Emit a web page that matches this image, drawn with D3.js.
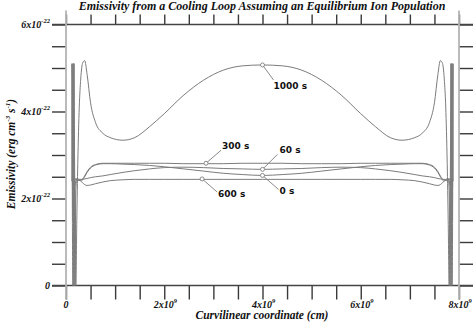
<!DOCTYPE html>
<html>
<head>
<meta charset="utf-8">
<script src="https://cdn.jsdelivr.net/npm/d3@7"></script>
<style>
  html, body { margin: 0; padding: 0; background: #fff; }
  svg { display: block; }
</style>
</head>
<body>
<svg id="chart" width="474" height="322"></svg>
<script>
// Position along the loop, in units of 1e9 cm
const coord = [
  0.12, 0.14, 0.16, 0.18, 0.20, 0.22, 0.24, 0.27, 0.30, 0.34, 0.38, 0.43,
  0.50, 0.60, 0.75, 0.90, 1.16, 1.40, 1.70, 2.00, 2.40, 2.80, 3.20, 3.60,
  4.00,
  4.40, 4.80, 5.20, 5.60, 6.00, 6.30, 6.60, 6.84, 7.10, 7.25, 7.40, 7.50,
  7.57, 7.62, 7.66, 7.70, 7.73, 7.76, 7.78, 7.80, 7.82, 7.84, 7.86, 7.88
];

// Emissivity in units of 1e-22 erg cm^-3 s^-1
const emis0 = [
  5.10, 0.00, 2.40, 2.45, 2.45, 2.44, 2.43, 2.42, 2.42, 2.43, 2.50, 2.60,
  2.70, 2.77, 2.80, 2.80, 2.79, 2.78, 2.76, 2.73, 2.68, 2.63, 2.58, 2.55,
  2.53,
  2.55, 2.58, 2.63, 2.68, 2.73, 2.76, 2.78, 2.79, 2.80, 2.80, 2.77, 2.70,
  2.60, 2.50, 2.43, 2.42, 2.42, 2.43, 2.44, 2.45, 2.45, 2.40, 0.00, 5.10
];
const emis60 = [
  2.40, 5.10, 0.00, 2.40, 2.45, 2.45, 2.45, 2.44, 2.44, 2.44, 2.45, 2.46,
  2.48, 2.50, 2.52, 2.55, 2.60, 2.64, 2.68, 2.71, 2.72, 2.71, 2.69, 2.68,
  2.67,
  2.68, 2.69, 2.71, 2.72, 2.71, 2.68, 2.64, 2.60, 2.55, 2.52, 2.50, 2.48,
  2.46, 2.45, 2.44, 2.44, 2.44, 2.45, 2.45, 2.45, 2.40, 0.00, 5.10, 2.40
];
const emis300 = [
  5.10, 1.50, 5.10, 2.30, 2.40, 2.42, 2.42, 2.42, 2.43, 2.45, 2.52, 2.62,
  2.72, 2.78, 2.81, 2.81, 2.81, 2.81, 2.81, 2.81, 2.80, 2.80, 2.80, 2.81,
  2.81,
  2.81, 2.80, 2.80, 2.80, 2.81, 2.81, 2.81, 2.81, 2.81, 2.81, 2.78, 2.72,
  2.62, 2.52, 2.45, 2.43, 2.42, 2.42, 2.42, 2.40, 2.30, 5.10, 1.50, 5.10
];
const emis600 = [
  2.40, 2.40, 5.10, 0.00, 2.20, 2.45, 2.45, 2.42, 2.40, 2.36, 2.32, 2.30,
  2.31, 2.34, 2.38, 2.41, 2.43, 2.44, 2.44, 2.44, 2.44, 2.44, 2.44, 2.44,
  2.44,
  2.44, 2.44, 2.44, 2.44, 2.44, 2.44, 2.44, 2.43, 2.41, 2.38, 2.34, 2.31,
  2.30, 2.32, 2.36, 2.40, 2.42, 2.45, 2.45, 2.20, 0.00, 5.10, 2.40, 2.40
];
const emis1000 = [
  2.40, 2.40, 2.40, 2.30, 0.00, 1.50, 2.80, 4.10, 4.75, 5.12, 5.17, 4.85,
  4.20, 3.75, 3.50, 3.40, 3.34, 3.40, 3.65, 3.95, 4.38, 4.72, 4.95, 5.05,
  5.07,
  5.05, 4.95, 4.72, 4.38, 3.95, 3.65, 3.40, 3.34, 3.40, 3.50, 3.75, 4.20,
  4.85, 5.17, 5.12, 4.75, 4.10, 2.80, 1.50, 0.00, 2.30, 2.40, 2.40, 2.40
];

const seriesNames = ["0 s", "60 s", "300 s", "600 s", "1000 s"];
const seriesValues = [emis0, emis60, emis300, emis600, emis1000];

// Callout labels: where the leader starts on the curve, and where its text sits
const calloutName = ["1000 s", "300 s", "60 s", "0 s", "600 s"];
const calloutAt = [4.00, 2.85, 4.00, 4.00, 2.77];
const calloutVal = [5.07, 2.81, 2.67, 2.53, 2.45];

// Axis ticks and labels
const xTicks = d3.range(0, 8.01, 0.5);
const yTicks = d3.range(0, 6.01, 0.5);
const xLabelAt = [0, 2, 4, 6, 8];
const xLabelBase = ["0", "2x10", "4x10", "6x10", "8x10"];
const xLabelExp = ["", "9", "9", "9", "9"];
const yLabelAt = [0, 2, 4, 6];
const yLabelBase = ["0", "2x10", "4x10", "6x10"];
const yLabelExp = ["", "-22", "-22", "-22"];

const svg = d3.select("#chart");
const x = d3.scaleLinear().domain([0, 8]).range([66, 459]);
const y = d3.scaleLinear().domain([0, 6]).range([285.5, 24.5]);

const serif = "'Liberation Serif', 'Times New Roman', serif";
const sans = "'DejaVu Sans', Verdana, sans-serif";
const tickLen = 14;

// Axis ticks on all four sides, pointing outward
const axisStyle = g => {
  g.select(".domain").remove();
  g.selectAll(".tick line").attr("stroke", "#3a3a3a").attr("stroke-width", 1.4);
  g.selectAll(".tick text").remove();
};
svg.append("g").attr("transform", `translate(${x(0)},0)`)
  .call(d3.axisLeft(y).tickValues(yTicks).tickSize(tickLen)).call(axisStyle);
svg.append("g").attr("transform", `translate(${x(8)},0)`)
  .call(d3.axisRight(y).tickValues(yTicks).tickSize(tickLen)).call(axisStyle);
svg.append("g").attr("transform", `translate(0,${y(0)})`)
  .call(d3.axisBottom(x).tickValues(xTicks).tickSize(tickLen)).call(axisStyle);
svg.append("g").attr("transform", `translate(0,${y(6)})`)
  .call(d3.axisTop(x).tickValues(xTicks).tickSize(10)).call(axisStyle);

// Frame: horizontal rules dark, vertical rules light grey, each running past the corners
[0, 6].forEach(v => {
  svg.append("line")
    .attr("x1", x(0) - tickLen).attr("x2", x(8) + tickLen)
    .attr("y1", y(v)).attr("y2", y(v))
    .attr("stroke", "#444").attr("stroke-width", 1.6);
});
[0, 8].forEach(v => {
  svg.append("line")
    .attr("x1", x(v)).attr("x2", x(v))
    .attr("y1", y(6) - tickLen).attr("y2", y(0) + tickLen)
    .attr("stroke", "#b4b4b4").attr("stroke-width", 1.8);
});

// Curves
const line = d3.line()
  .x((d, i) => x(coord[i]))
  .y(d => y(d))
  .curve(d3.curveMonotoneX);

svg.append("g")
  .selectAll("path")
  .data(seriesValues)
  .join("path")
  .attr("d", line)
  .attr("fill", "none")
  .attr("stroke", "#7c7c7c")
  .attr("stroke-width", 1);

// Callouts: small ring on the curve, leader line, bold label
const calloutDx = [11, 15, 15, 16, 15];
const calloutDy = [15, -13, -15, 14, 13];
const calloutTx = [0, 1, 2, 1, 1];
const calloutTy = [9, -1, -1, 5, 5];
const ca = svg.append("g");
calloutName.forEach((name, i) => {
  const px = x(calloutAt[i]), py = y(calloutVal[i]);
  const ex = px + calloutDx[i], ey = py + calloutDy[i];
  ca.append("line")
    .attr("x1", px).attr("y1", py).attr("x2", ex).attr("y2", ey)
    .attr("stroke", "#8a8a8a").attr("stroke-width", 1);
  ca.append("circle")
    .attr("cx", px).attr("cy", py).attr("r", 2)
    .attr("fill", "#fff").attr("stroke", "#808080").attr("stroke-width", 0.9);
  ca.append("text")
    .attr("x", ex + calloutTx[i]).attr("y", ey + calloutTy[i])
    .attr("font-family", sans).attr("font-weight", "bold").attr("font-size", 9)
    .attr("fill", "#111")
    .text(name);
});

// Tick labels with superscript exponents
const labelFont = sel => sel
  .attr("font-family", serif).attr("font-weight", "bold")
  .attr("font-style", "italic").attr("fill", "#111");

yLabelAt.forEach((v, i) => {
  const t = svg.append("text")
    .attr("x", x(0) - tickLen - 2).attr("y", y(v) + 3.5)
    .attr("text-anchor", "end").attr("font-size", 10).call(labelFont);
  t.append("tspan").text(yLabelBase[i]);
  if (yLabelExp[i]) t.append("tspan").attr("dy", -5).attr("font-size", 6.5).text(yLabelExp[i]);
});

xLabelAt.forEach((v, i) => {
  const t = svg.append("text")
    .attr("x", x(v) + (xLabelExp[i] ? 1 : 0)).attr("y", 308)
    .attr("text-anchor", "middle").attr("font-size", 10).call(labelFont);
  t.append("tspan").text(xLabelBase[i]);
  if (xLabelExp[i]) t.append("tspan").attr("dy", -5).attr("font-size", 6.5).text(xLabelExp[i]);
});

// Titles
svg.append("text")
  .attr("x", 262).attr("y", 10)
  .attr("text-anchor", "middle").attr("font-size", 12).call(labelFont)
  .text("Emissivity from a Cooling Loop Assuming an Equilibrium Ion Population");

svg.append("text")
  .attr("x", 262).attr("y", 319)
  .attr("text-anchor", "middle").attr("font-size", 11.5).call(labelFont)
  .text("Curvilinear coordinate (cm)");

const yt = svg.append("text")
  .attr("transform", "translate(15,154) rotate(-90)")
  .attr("text-anchor", "middle").attr("font-size", 11.5).call(labelFont);
yt.append("tspan").text("Emissivity (erg cm");
yt.append("tspan").attr("dy", -5).attr("font-size", 7).text("-3");
yt.append("tspan").attr("dy", 5).text(" s");
yt.append("tspan").attr("dy", -5).attr("font-size", 7).text("-1");
yt.append("tspan").attr("dy", 5).text(")");
</script>
</body>
</html>
